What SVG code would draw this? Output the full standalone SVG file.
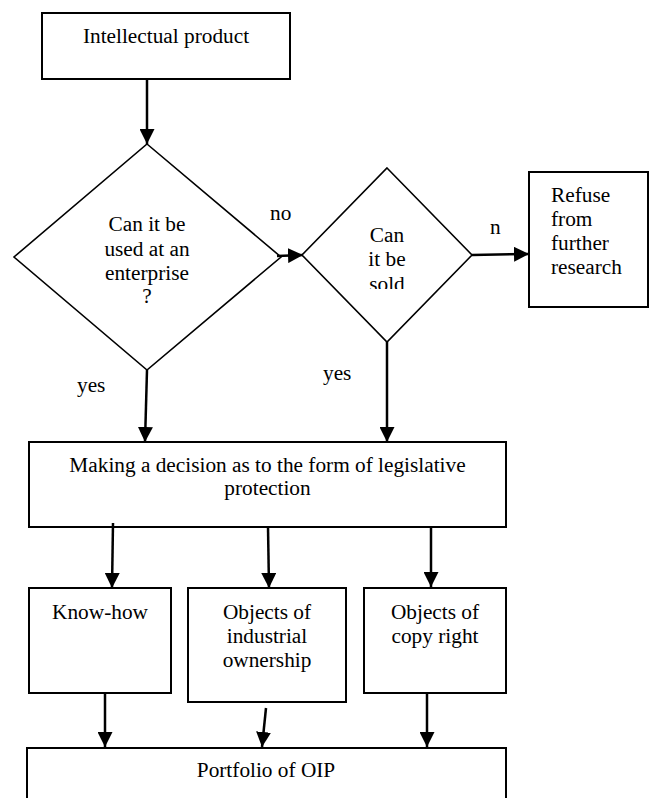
<svg xmlns="http://www.w3.org/2000/svg" width="651" height="798" viewBox="0 0 651 798" font-family="'Liberation Serif', 'Times New Roman', serif" font-size="21.3">
<style>
.t{font-family:'Liberation Serif','Times New Roman',serif;font-size:21.3px;fill:#000}
.box{fill:#fff;stroke:#000;stroke-width:2}
.dia{fill:#fff;stroke:#000;stroke-width:1.6}
.c{text-anchor:middle}
.con line{stroke:#000;stroke-width:2.5;marker-end:url(#ah)}
</style>
<defs>
<marker id="ah" viewBox="0 0 10 10" refX="10" refY="5" markerWidth="15" markerHeight="15" markerUnits="userSpaceOnUse" orient="auto">
<path d="M0,0 L10,5 L0,10 z" fill="#000"/>
</marker>
<clipPath id="soldclip"><rect x="340" y="220" width="100" height="69"/></clipPath>
</defs>
<rect width="651" height="798" fill="#fff"/>
<g id="intellectual-product">
<rect class="box" x="42" y="13" width="248" height="66"/>
<text class="t c" x="166" y="43">Intellectual product</text>
</g>
<g id="can-it-be-used">
<polygon class="dia" points="147,144 281,257 147,370 14,257"/>
<text class="t c" x="147" y="231">Can it be</text>
<text class="t c" x="147" y="256">used at an</text>
<text class="t c" x="147" y="280">enterprise</text>
<text class="t c" x="147" y="303">?</text>
</g>
<g id="can-it-be-sold">
<polygon class="dia" points="387,168 472,255 387,342 302,255"/>
<g clip-path="url(#soldclip)">
<text class="t c" x="387" y="242">Can</text>
<text class="t c" x="387" y="266">it be</text>
<text class="t c" x="387" y="291">sold</text>
</g>
</g>
<g id="refuse">
<rect class="box" x="529" y="172" width="119" height="135"/>
<text class="t" x="551" y="202">Refuse</text>
<text class="t" x="551" y="226">from</text>
<text class="t" x="551" y="250">further</text>
<text class="t" x="551" y="274">research</text>
</g>
<g id="making-decision">
<rect class="box" x="29" y="442" width="477" height="85"/>
<text class="t c" x="267.5" y="472">Making a decision as to the form of legislative</text>
<text class="t c" x="267.5" y="495">protection</text>
</g>
<g id="know-how">
<rect class="box" x="29" y="588" width="142" height="105"/>
<text class="t c" x="100" y="619">Know-how</text>
</g>
<g id="industrial-ownership">
<rect class="box" x="188" y="588" width="158" height="114"/>
<text class="t c" x="267" y="619">Objects of</text>
<text class="t c" x="267" y="643">industrial</text>
<text class="t c" x="267" y="667">ownership</text>
</g>
<g id="copy-right">
<rect class="box" x="364" y="588" width="142" height="105"/>
<text class="t c" x="435" y="619">Objects of</text>
<text class="t c" x="435" y="643">copy right</text>
</g>
<g id="portfolio">
<rect class="box" x="27" y="748" width="479" height="70"/>
<text class="t c" x="266" y="777">Portfolio of OIP</text>
</g>
<g id="connectors" class="con">
<line x1="147" y1="80" x2="147" y2="144"/>
<line x1="277" y1="256" x2="303" y2="255"/>
<line x1="472" y1="255" x2="529" y2="254"/>
<line x1="147" y1="370" x2="145" y2="442"/>
<line x1="387" y1="342" x2="387" y2="442"/>
<line x1="113" y1="523" x2="112" y2="588"/>
<line x1="268" y1="527" x2="269" y2="588"/>
<line x1="431" y1="527" x2="431" y2="587"/>
<line x1="105" y1="693" x2="105" y2="747"/>
<line x1="266" y1="708" x2="262" y2="747"/>
<line x1="427" y1="693" x2="427" y2="747"/>
</g>
<g id="labels">
<text class="t" x="270" y="220">no</text>
<text class="t" x="490" y="234">n</text>
<text class="t" x="77" y="392">yes</text>
<text class="t" x="323" y="380">yes</text>
</g>
</svg>
